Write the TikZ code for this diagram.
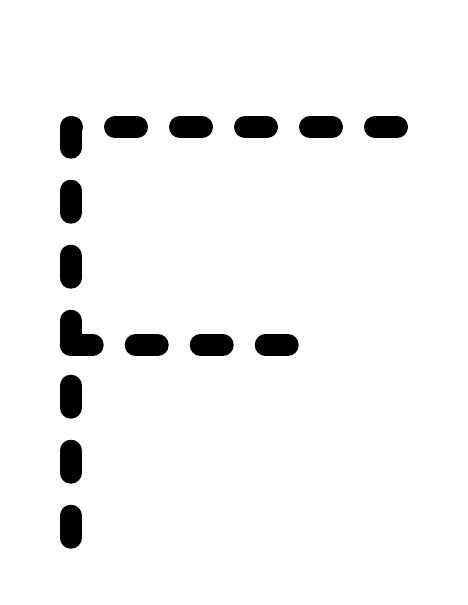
\documentclass[tikz,border=0pt]{standalone}
\begin{document}
\begin{tikzpicture}[x=1pt,y=-1pt,
  dashline/.style={line width=22pt, line cap=round, line join=round, dash pattern=on 22pt off 43pt, black}]
\useasboundingbox (0,0) rectangle (468,605);
\coordinate (tr) at (397,127);
\coordinate (tl) at (70.7,127);
\coordinate (bl) at (70.7,541);
\coordinate (ml) at (70.7,345);
\coordinate (mr) at (288,345);
\draw[dashline] (tr) -- (tl) -- (bl);
\draw[dashline] (ml) -- (mr);
\end{tikzpicture}
\end{document}
